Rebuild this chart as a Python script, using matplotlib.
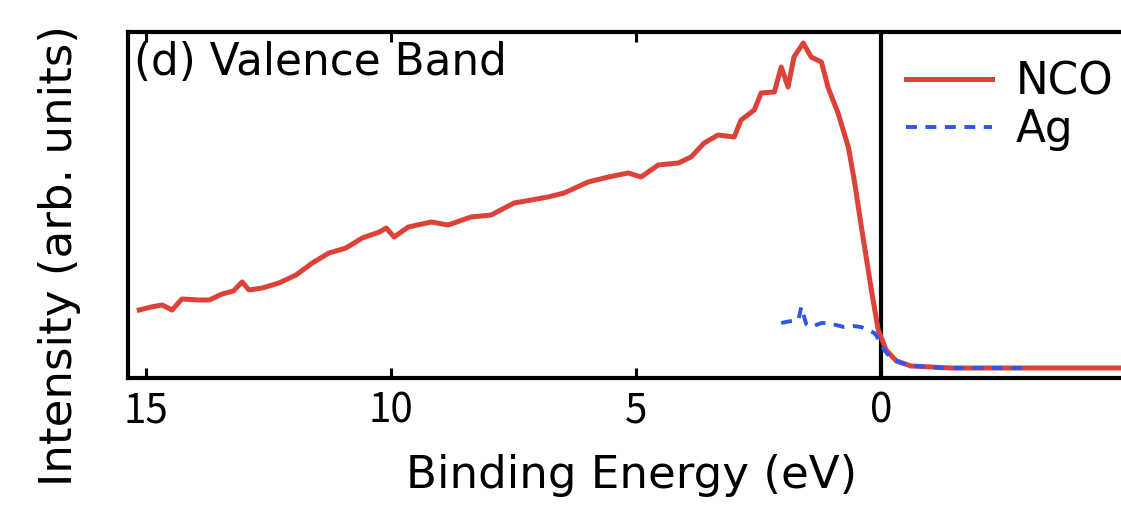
import matplotlib
matplotlib.use("Agg")
import matplotlib.pyplot as plt

plt.rcParams['font.family'] = ['Noto Sans CJK JP', 'DejaVu Sans']

# NCO valence-band spectrum: binding energy (eV) and intensity (arb. units)
nco_energy = [15.14, 14.90, 14.67, 14.47, 14.27, 13.92, 13.71, 13.45, 13.22, 13.04,
              12.90, 12.63, 12.29, 11.94, 11.61, 11.27, 10.92, 10.59, 10.24, 10.10,
              9.94, 9.65, 9.18, 8.84, 8.37, 7.96, 7.49, 7.14, 6.80, 6.47,
              5.98, 5.57, 5.16, 4.90, 4.55, 4.14, 3.88, 3.61, 3.33, 3.00,
              2.86, 2.59, 2.45, 2.18, 2.04, 1.90, 1.78, 1.59, 1.43, 1.22,
              1.08, 0.88, 0.67, 0.55, 0.41, 0.20, 0.06, -0.10, -0.31, -0.61,
              -1.43, -2.45, -3.67, -5.10]
nco_intensity = [68, 71, 73, 68, 79, 78, 78, 84, 87, 96,
                 88, 90, 95, 103, 115, 125, 130, 140, 146, 150,
                 141, 151, 156, 153, 161, 163, 175, 178, 181, 185,
                 196, 201, 205, 201, 213, 215, 221, 235, 243, 241,
                 258, 268, 285, 286, 311, 291, 321, 335, 321, 316,
                 290, 265, 231, 198, 153, 88, 48, 28, 17, 12,
                 10, 10, 10, 10]

# Ag reference near the Fermi edge
ag_energy = [2.04, 1.84, 1.69, 1.63, 1.53, 1.43, 1.22, 1.08, 0.92, 0.76,
             0.57, 0.41, 0.27, 0.14, 0.04, -0.06, -0.20, -0.41, -0.71, -1.22,
             -2.04, -3.06]
ag_intensity = [55, 57, 58, 71, 54, 51, 55, 55, 53, 51,
                52, 51, 48, 45, 38, 28, 20, 15, 12, 10,
                10, 10]

x_ticks = [15, 10, 5, 0]
x_limits = (15.37, -5.2)
y_limits = (0, 346)

W, H = 1121, 517
fig = plt.figure(figsize=(W / 100, H / 100), dpi=100)
ax = fig.add_axes([128 / W, 139 / H, 1008 / W, 346 / H])

red = '#dc4238'
blue = '#2f55ee'
ax.plot(nco_energy, nco_intensity, color=red, lw=3.6, label='NCO', zorder=3)
ax.plot(ag_energy, ag_intensity, color=blue, lw=2.8, ls=(0, (2.8, 2.2)),
        label='Ag', zorder=4)
ax.axvline(0, color='black', lw=3, zorder=2)

ax.set_xlim(*x_limits)
ax.set_ylim(*y_limits)
ax.set_xticks(x_ticks)
ax.set_xticklabels([str(t) for t in x_ticks])
ax.set_yticks([])

tick_fs = 29
label_fs = 32.5
label_font = ['DejaVu Sans']
for s in ax.spines.values():
    s.set_linewidth(3)
ax.tick_params(axis='x', direction='in', length=7, width=2.2, top=True,
               labelsize=tick_fs, pad=9)

ax.set_xlabel('Binding Energy (eV)', fontsize=label_fs, family=label_font)
ax.xaxis.set_label_coords(0.5, -0.22)
ax.xaxis.label.set_va('top')
ax.set_ylabel('Intensity (arb. units)', fontsize=label_fs, family=label_font)
ax.yaxis.set_label_coords(-0.047, 0.355)

ax.text(0.006, 0.975, '(d) Valence Band', transform=ax.transAxes,
        fontsize=31.5, va='top', ha='left', family=label_font)

ax.legend(loc='upper left', bbox_to_anchor=(750 / 1008, 1.0), frameon=False,
          prop={'family': label_font, 'size': 31.5}, handlelength=1.95,
          handletextpad=0.55, labelspacing=0.1, borderaxespad=0.25)

fig.savefig('out.png', dpi=100)
